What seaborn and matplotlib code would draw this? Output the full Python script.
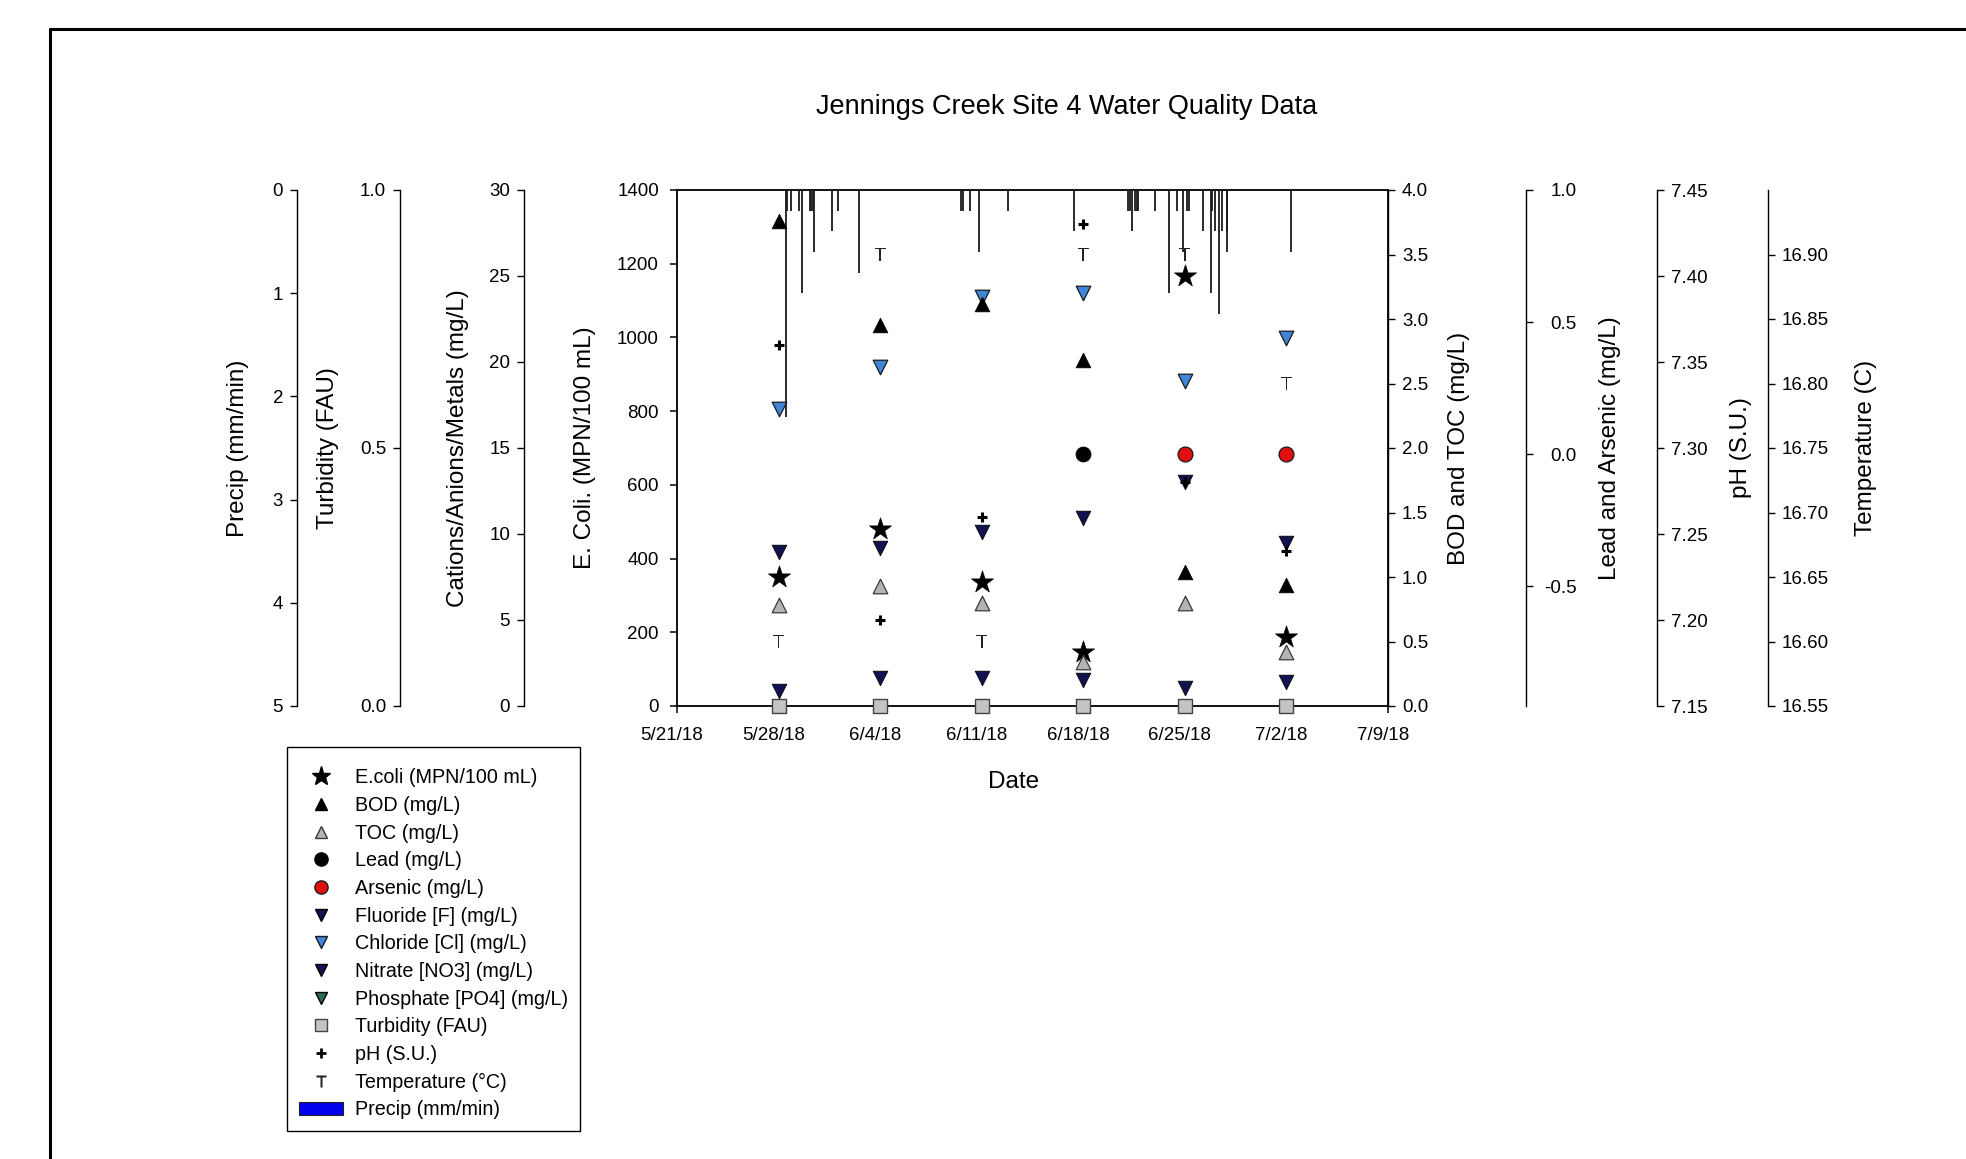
import numpy as np
import pandas as pd
import matplotlib
matplotlib.use("Agg")
import matplotlib.pyplot as plt
import matplotlib.transforms as mtransforms
from matplotlib.lines import Line2D
from matplotlib.patches import Patch
import seaborn as sns

# ---------------- data ----------------
sample_dates = ["2018-05-28", "2018-06-04", "2018-06-11", "2018-06-18", "2018-06-25", "2018-07-02"]
ecoli = [351, 479, 336, 147, 1167, 188]
bod = [3.76, 2.95, 3.12, 2.68, 1.04, 0.94]
toc = [0.78, 0.93, 0.80, 0.34, 0.80, 0.42]
lead = [np.nan, np.nan, np.nan, 0.0, np.nan, np.nan]
arsenic = [np.nan, np.nan, np.nan, np.nan, 0.0, 0.0]
fluoride = [0.85, 1.61, 1.61, 1.51, 1.03, 1.38]
chloride = [17.25, 19.73, 23.80, 24.03, 18.91, 21.38]
nitrate = [8.97, 9.17, 10.13, 10.91, 13.04, 9.46]
phosphate = [np.nan, np.nan, np.nan, np.nan, np.nan, np.nan]
turbidity = [0.0, 0.0, 0.0, 0.0, 0.0, 0.0]
ph = [7.36, 7.20, 7.26, 7.43, 7.28, 7.24]
temperature = [16.60, 16.90, 16.60, 16.90, 16.90, 16.80]

precip_times = [
    "2018-05-28 12:17", "2018-05-28 13:26", "2018-05-28 20:04", "2018-05-29 10:18",
    "2018-05-29 14:46", "2018-05-30 03:59", "2018-05-30 06:09", "2018-05-30 08:27",
    "2018-05-30 10:36", "2018-05-31 15:53", "2018-06-01 01:48", "2018-06-02 12:32",
    "2018-06-09 13:45", "2018-06-09 16:34", "2018-06-10 04:38", "2018-06-10 19:02",
    "2018-06-12 18:59", "2018-06-17 09:09", "2018-06-21 02:28", "2018-06-21 05:17",
    "2018-06-21 08:05", "2018-06-21 13:32", "2018-06-21 16:22", "2018-06-21 19:00",
    "2018-06-22 23:08", "2018-06-23 21:17", "2018-06-24 10:32", "2018-06-24 21:26",
    "2018-06-25 03:04", "2018-06-25 06:52", "2018-06-26 06:32", "2018-06-26 18:46",
    "2018-06-26 20:56", "2018-06-27 01:52", "2018-06-27 08:30", "2018-06-27 13:56",
    "2018-06-27 21:13", "2018-06-27 22:13", "2018-07-02 07:05",
]
precip_values = [
    2.2, 0.2, 0.2, 0.2,
    1.0, 0.2, 0.2, 0.2,
    0.6, 0.4, 0.2, 0.8,
    0.2, 0.2, 0.2, 0.6,
    0.2, 0.4, 0.2, 0.2,
    0.4, 0.2, 0.2, 0.2,
    0.2, 1.0, 0.2, 0.6,
    0.2, 0.2, 0.4, 1.0,
    0.2, 0.4, 1.2, 0.4,
    0.6, 0.4, 0.6,
]

date_ticks = ["2018-05-21", "2018-05-28", "2018-06-04", "2018-06-11",
              "2018-06-18", "2018-06-25", "2018-07-02", "2018-07-09"]
date_tick_labels = ["5/21/18", "5/28/18", "6/4/18", "6/11/18",
                    "6/18/18", "6/25/18", "7/2/18", "7/9/18"]

precip_ticks = [0, 1, 2, 3, 4, 5]
turb_ticks = [0.0, 0.5, 1.0]
cation_ticks = [0, 5, 10, 15, 20, 25, 30]
ecoli_ticks = [0, 200, 400, 600, 800, 1000, 1200, 1400]
bod_ticks = [0.0, 0.5, 1.0, 1.5, 2.0, 2.5, 3.0, 3.5, 4.0]
metal_ticks = [-0.5, 0.0, 0.5, 1.0]
ph_ticks = [7.15, 7.20, 7.25, 7.30, 7.35, 7.40, 7.45]
temp_ticks = [16.55, 16.60, 16.65, 16.70, 16.75, 16.80, 16.85, 16.90]

# ---------------- style ----------------
sns.set_theme(style="ticks")
plt.rcParams["font.family"] = ["Liberation Sans", "DejaVu Sans"]
plt.rcParams["text.color"] = "black"
plt.rcParams["axes.edgecolor"] = "black"
plt.rcParams["xtick.color"] = "black"
plt.rcParams["ytick.color"] = "black"
plt.rcParams["axes.labelcolor"] = "black"

PX_W, PX_H = 1966, 1159
L, R, T, B = 677, 1388, 190, 706
TICK_FS = 13.5
LABEL_FS = 17.5

fig = plt.figure(figsize=(PX_W / 100, PX_H / 100), dpi=100)
fig.patch.set_facecolor("white")

ax = fig.add_axes([L / PX_W, 1 - B / PX_H, (R - L) / PX_W, (B - T) / PX_H])
ax.set_facecolor("white")

dates = pd.to_datetime(sample_dates)
xmin, xmax = pd.Timestamp("2018-05-21"), pd.Timestamp("2018-07-09")


def px_frac(xpx):
    return (xpx - L) / (R - L)


def side_axis(side, xpx, ylim, ticks, labels, pad=5.0):
    a = ax.twinx()
    a.patch.set_visible(False)
    for s in a.spines.values():
        s.set_visible(False)
    sp = a.spines[side]
    sp.set_visible(True)
    sp.set_position(("axes", px_frac(xpx)))
    sp.set_linewidth(1.0)
    if side == "left":
        a.yaxis.tick_left()
    else:
        a.yaxis.tick_right()
    a.set_ylim(*ylim)
    a.set_yticks(ticks)
    a.set_yticklabels(labels)
    a.tick_params(axis="y", direction="out", length=5, width=1, pad=pad, labelsize=TICK_FS)
    return a


def pts(a, y, marker, s, fc, ec, lw, z=3):
    yy = np.asarray(y, dtype=float)
    if np.all(np.isnan(yy)):
        return
    sns.scatterplot(x=dates, y=yy, ax=a, marker=marker, s=s, color=fc,
                    edgecolor=ec, linewidth=lw, legend=False, zorder=z, clip_on=False)
    a.set_xlabel("")
    a.set_ylabel("")


# precipitation (inverted, hanging from top)
ax_pr = side_axis("left", 297, (5, 0), precip_ticks, [str(t) for t in precip_ticks])
ax_pr.vlines(pd.to_datetime(precip_times), 0, precip_values, color="#1a1a1a", lw=1.3)
ax_pr.set_ylim(5, 0)

# other axes
ax_tu = side_axis("left", 400, (0, 1), turb_ticks, ["%.1f" % t for t in turb_ticks])
ax_ca = side_axis("left", 524, (0, 30), cation_ticks, [str(t) for t in cation_ticks])
ax_bo = side_axis("right", R, (0, 4), bod_ticks, ["%.1f" % t for t in bod_ticks])
ax_me = side_axis("right", 1526, (-0.953, 1.0), metal_ticks, ["%.1f" % t for t in metal_ticks], pad=31.4)
for lbl in ax_me.get_yticklabels():
    lbl.set_horizontalalignment("right")
ax_ph = side_axis("right", 1657, (7.15, 7.45), ph_ticks, ["%.2f" % t for t in ph_ticks])
ax_te = side_axis("right", 1768, (16.55, 16.95), temp_ticks, ["%.2f" % t for t in temp_ticks])

# markers
navy = "#121250"
pts(ax, ecoli, "*", 280, "black", "black", 0.5, z=4)
pts(ax_bo, bod, "^", 110, "black", "black", 0.6)
pts(ax_bo, toc, "^", 110, "#b4b4b4", "#3a3a3a", 0.9)
pts(ax_me, lead, "o", 115, "black", "black", 0.6)
pts(ax_me, arsenic, "o", 115, "#e01010", "#1a1a1a", 0.9)
pts(ax_ca, fluoride, "v", 110, navy, "black", 0.6)
pts(ax_ca, chloride, "v", 110, "#3f86d8", "#1a1a1a", 0.9)
pts(ax_ca, nitrate, "v", 110, navy, "black", 0.6)
pts(ax_ca, phosphate, "v", 110, "#2e6b50", "black", 0.6)
pts(ax_tu, turbidity, "s", 95, "#c4c4c4", "#444444", 1.0, z=5)
pts(ax_ph, ph, "+", 55, "black", "black", 2.2)
pts(ax_te, temperature, r"$\mathsf{T}$", 90, "#222222", "none", 0.0)

for a in (ax_pr, ax_tu, ax_ca, ax_bo, ax_me, ax_ph, ax_te):
    a.set_xlim(xmin, xmax)
    a.set_xlabel("")
    a.set_ylabel("")
ax_pr.set_ylim(5, 0)
ax_tu.set_ylim(0, 1)
ax_ca.set_ylim(0, 30)
ax_bo.set_ylim(0, 4)
ax_me.set_ylim(-0.953, 1.0)
ax_ph.set_ylim(7.15, 7.45)
ax_te.set_ylim(16.55, 16.95)

# main (E. coli) axis
ax.set_xlim(xmin, xmax)
ax.set_ylim(0, 1400)
ax.set_yticks(ecoli_ticks)
ax.set_yticklabels([str(t) for t in ecoli_ticks])
ax.set_xticks(pd.to_datetime(date_ticks))
ax.set_xticklabels(date_tick_labels)
ax.set_xlabel("")
ax.set_ylabel("")
for s in ("left", "bottom", "top", "right"):
    ax.spines[s].set_visible(True)
    ax.spines[s].set_linewidth(1.3)
ax.tick_params(axis="both", direction="out", length=5, width=1.1, labelsize=TICK_FS)
ax.tick_params(axis="x", top=False, pad=10)
ax.tick_params(axis="y", right=False, pad=8)
shift = mtransforms.ScaledTranslation(-5 / 100, 0, fig.dpi_scale_trans)
for lbl in ax.get_xticklabels():
    lbl.set_transform(lbl.get_transform() + shift)


def ftext(xpx, ypx, s, **kw):
    fig.text(xpx / PX_W, 1 - ypx / PX_H, s, **kw)


# axis titles
ylab = dict(rotation=90, ha="center", va="center", fontsize=LABEL_FS)
ftext(238, 448, "Precip (mm/min)", **ylab)
ftext(328, 448, "Turbidity (FAU)", **ylab)
ftext(458, 448, "Cations/Anions/Metals (mg/L)", **ylab)
ftext(585, 448, "E. Coli. (MPN/100 mL)", **ylab)
ftext(1459, 448, "BOD and TOC (mg/L)", **ylab)
ftext(1610, 448, "Lead and Arsenic (mg/L)", **ylab)
ftext(1741, 448, "pH (S.U.)", **ylab)
ftext(1866, 448, "Temperature (C)", **ylab)
ftext(1014, 782, "Date", ha="center", va="center", fontsize=LABEL_FS)
ftext(1067, 107, "Jennings Creek Site 4 Water Quality Data", ha="center", va="center", fontsize=19.5)

# legend
handles = [
    Line2D([], [], ls="None", marker="*", ms=14, mfc="black", mec="black"),
    Line2D([], [], ls="None", marker="^", ms=9, mfc="black", mec="black"),
    Line2D([], [], ls="None", marker="^", ms=9, mfc="#b4b4b4", mec="#3a3a3a"),
    Line2D([], [], ls="None", marker="o", ms=9.5, mfc="black", mec="black"),
    Line2D([], [], ls="None", marker="o", ms=9.5, mfc="#e01010", mec="#1a1a1a"),
    Line2D([], [], ls="None", marker="v", ms=9, mfc=navy, mec="black"),
    Line2D([], [], ls="None", marker="v", ms=9, mfc="#3f86d8", mec="#1a1a1a"),
    Line2D([], [], ls="None", marker="v", ms=9, mfc=navy, mec="black"),
    Line2D([], [], ls="None", marker="v", ms=9, mfc="#2e6b50", mec="black"),
    Line2D([], [], ls="None", marker="s", ms=8.5, mfc="#c4c4c4", mec="#444444"),
    Line2D([], [], ls="None", marker="+", ms=7, mew=2.0, color="black"),
    Line2D([], [], ls="None", marker=r"$\mathsf{T}$", ms=8, mfc="#222222", mec="none"),
    Patch(facecolor="#0000ee", edgecolor="#222222", lw=0.8),
]
labels = [
    "E.coli (MPN/100 mL)", "BOD (mg/L)", "TOC (mg/L)", "Lead (mg/L)", "Arsenic (mg/L)",
    "Fluoride [F] (mg/L)", "Chloride [Cl] (mg/L)", "Nitrate [NO3] (mg/L)",
    "Phosphate [PO4] (mg/L)", "Turbidity (FAU)", "pH (S.U.)", "Temperature (\u00b0C)",
    "Precip (mm/min)",
]
leg = fig.legend(handles, labels, loc="upper left",
                 bbox_to_anchor=(286.7 / PX_W, 1 - 746.7 / PX_H),
                 borderaxespad=0, frameon=True, fancybox=False, framealpha=1,
                 edgecolor="black", fontsize=14.2, handlelength=2.25,
                 handletextpad=0.6, labelspacing=0.44, borderpad=0.6,
                 title=" ", title_fontsize=1)
leg.get_frame().set_linewidth(1.0)

# outer frame lines (top and left)
fig.add_artist(Line2D([50 / PX_W, 1], [1 - 29 / PX_H, 1 - 29 / PX_H],
                      transform=fig.transFigure, color="black", lw=2.2))
fig.add_artist(Line2D([50 / PX_W, 50 / PX_W], [0, 1 - 29 / PX_H],
                      transform=fig.transFigure, color="black", lw=2.2))

fig.savefig("out.png", dpi=100, facecolor="white")
